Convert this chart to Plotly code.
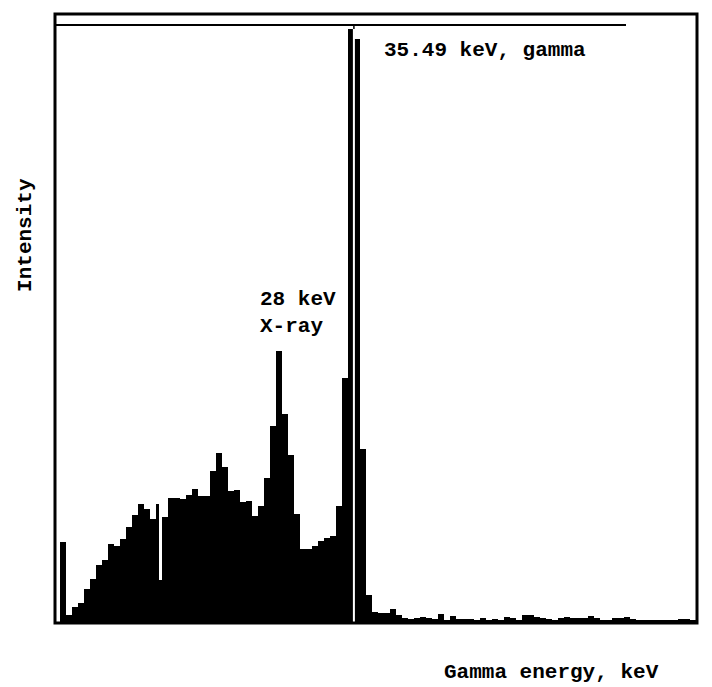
"""Gamma spectrum (I-125 style) redrawn as a black channel histogram."""
import plotly.graph_objects as go

# --------------------------------------------------------------------------- #
# Data
# --------------------------------------------------------------------------- #
FIRST_CHANNEL_KEV = 6.4   # centre of channel 0
CHANNEL_KEV = 0.6         # channel width

COUNTS = [
    81, 8, 16, 20, 34, 44, 58, 63, 79, 77,
    84, 96, 108, 119, 114, 104, 119, 106, 125, 125,
    124, 128, 134, 127, 127, 152, 170, 156, 132, 133,
    121, 122, 107, 117, 145, 197, 272, 209, 168, 109,
    74, 74, 77, 82, 85, 87, 117, 245, 594, 584,
    174, 28, 11, 10, 10, 14, 8, 5, 4, 5,
    6, 5, 4, 9, 3, 7, 4, 4, 4, 3,
    5, 3, 4, 3, 6, 5, 3, 8, 8, 6,
    5, 4, 3, 5, 6, 5, 5, 5, 7, 5,
    3, 3, 5, 5, 6, 4, 3, 3, 3, 3,
    3, 3, 3, 4, 4, 3,
]

# channel 16 drops out over its upper half
DROPOUT_CHANNEL = 16
DROPOUT_COUNTS = 43

GAMMA_KEV = 35.49
XRAY_KEV = 28
FULL_SCALE = 598
ROI_KEV = [5.6, 62.7]
X_RANGE = [5.6, 69.8]
Y_RANGE = [0, 609]

FONT = "Liberation Mono"


# --------------------------------------------------------------------------- #
# Bars
# --------------------------------------------------------------------------- #
xs, ys, ws = [], [], []
for i, c in enumerate(COUNTS):
    centre = FIRST_CHANNEL_KEV + CHANNEL_KEV * i
    if i == DROPOUT_CHANNEL:
        q = CHANNEL_KEV / 4
        xs += [centre - q, centre + q]
        ys += [c, DROPOUT_COUNTS]
        ws += [CHANNEL_KEV / 2, CHANNEL_KEV / 2]
    else:
        xs.append(centre)
        ys.append(c)
        ws.append(CHANNEL_KEV)

fig = go.Figure(go.Bar(x=xs, y=ys, width=ws,
                       marker=dict(color="black", line=dict(width=0)),
                       hoverinfo="skip"))

peak = max(COUNTS)
fig.add_shape(type="line", x0=ROI_KEV[0], x1=ROI_KEV[1], y0=FULL_SCALE, y1=FULL_SCALE,
              line=dict(color="black", width=2))
fig.add_shape(type="line", x0=GAMMA_KEV, x1=GAMMA_KEV, y0=0, y1=peak,
              line=dict(color="white", width=2))
fig.add_shape(type="line", x0=GAMMA_KEV, x1=GAMMA_KEV, y0=peak, y1=FULL_SCALE,
              line=dict(color="black", width=1.5))
fig.add_shape(type="rect", xref="paper", yref="paper", x0=0, x1=1, y0=0, y1=1,
              line=dict(color="black", width=3))

text_font = dict(family=FONT, size=21, color="black", weight="bold")
fig.add_annotation(x=GAMMA_KEV + 2.8, y=573, text=f"{GAMMA_KEV} keV, gamma",
                   showarrow=False, xanchor="left", yanchor="middle", font=text_font)
fig.add_annotation(x=XRAY_KEV - 2.1, y=310, text=f"{XRAY_KEV} keV<br>X-ray",
                   showarrow=False, xanchor="left", yanchor="middle", align="left",
                   font=text_font)
fig.add_annotation(x=-0.047, y=0.637, xref="paper", yref="paper", text="Intensity",
                   textangle=-90, showarrow=False, xanchor="center", yanchor="middle",
                   font=text_font)
fig.add_annotation(x=0.773, y=-0.082, xref="paper", yref="paper",
                   text="Gamma energy, keV", showarrow=False,
                   xanchor="center", yanchor="middle", font=text_font)

# page body adds an 8px offset, so the figure is a touch smaller than the window
fig.update_layout(
    width=704, height=679,
    margin=dict(l=47, r=15, t=6, b=64),
    plot_bgcolor="white", paper_bgcolor="white",
    bargap=0, showlegend=False,
)
fig.update_xaxes(range=X_RANGE, showgrid=False, zeroline=False, showticklabels=False,
                 ticks="")
fig.update_yaxes(range=Y_RANGE, showgrid=False, zeroline=False, showticklabels=False,
                 ticks="")

fig.write_html("out.html")
